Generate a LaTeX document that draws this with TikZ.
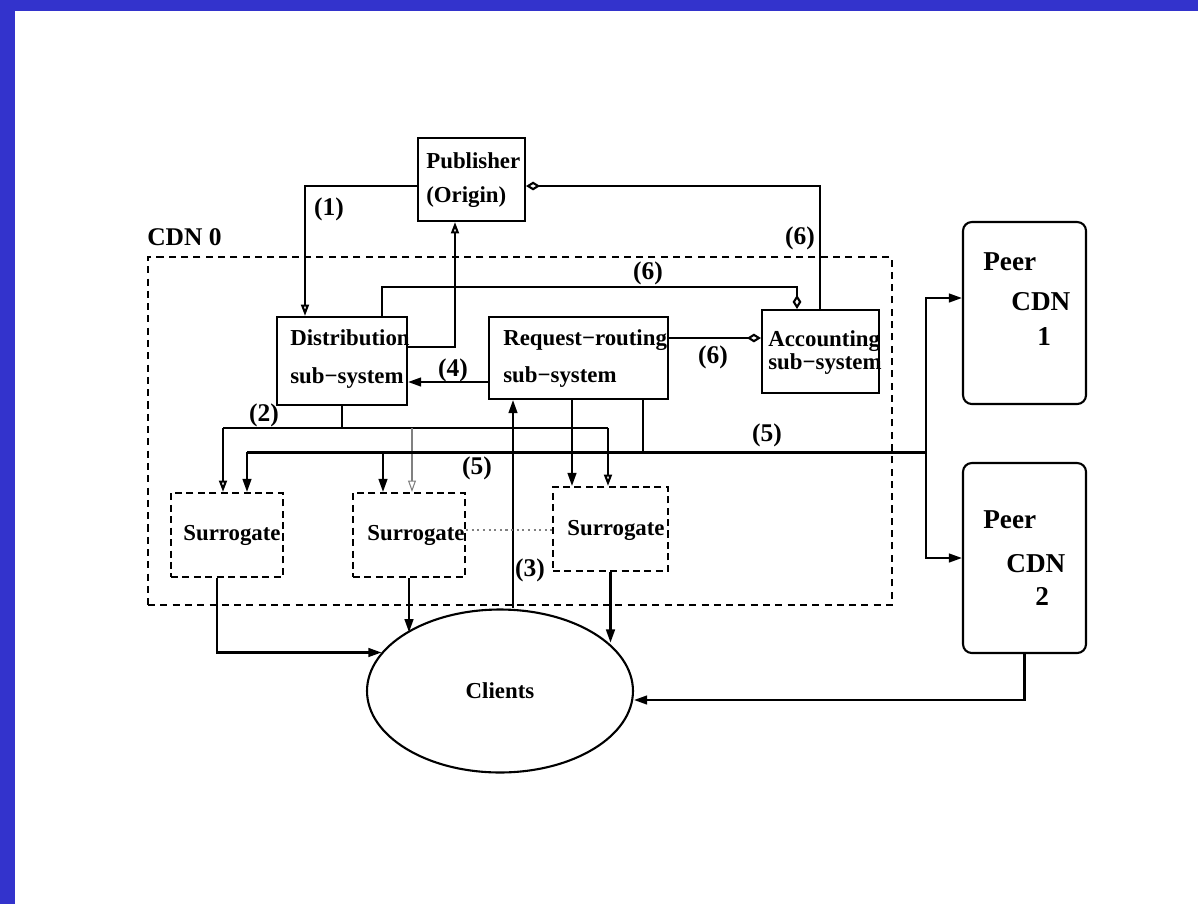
\documentclass[tikz,border=0pt]{standalone}
\usepackage{fontspec}
\setmainfont{Liberation Serif}
\usetikzlibrary{arrows.meta, positioning, shapes.geometric}
\definecolor{frameblue}{RGB}{51,51,204}

\begin{document}
\begin{tikzpicture}[x=0.02cm, y=-0.02cm,
    box/.style={rectangle, draw, line width=1.2pt, inner sep=0pt},
    surrogate/.style={rectangle, draw, line width=1.2pt, dash pattern=on 4pt off 2.5pt, minimum width=2.24cm, minimum height=1.68cm, inner sep=0pt},
    peer/.style={rectangle, draw, line width=1.2pt, rounded corners=5pt, minimum width=2.46cm, inner sep=0pt},
    txt/.style={anchor=base west, inner sep=0pt, font=\bfseries\fontsize{13}{15}\selectfont},
    peertxt/.style={anchor=base west, inner sep=0pt, font=\bfseries\fontsize{15.5}{18}\selectfont},
    lbl/.style={inner sep=0pt, font=\bfseries\fontsize{14.5}{17}\selectfont},
    wire/.style={line width=1.2pt},
    arrow/.style={-{Triangle[length=7.5pt,width=5pt]}, line width=1.2pt},
    openarrow/.style={-{Triangle[open,length=6.5pt,width=4.5pt]}, line width=1.2pt},
    diamarrow/.style={-{Diamond[open,length=8pt,width=5pt]}, line width=1.2pt}
]
    % Frame
    \useasboundingbox (0,0) rectangle (1198,904);
    \fill[frameblue] (0,0) rectangle (1198,11);
    \fill[frameblue] (0,0) rectangle (15,904);

    % Publisher and CDN 0
    \node[box, minimum width=2.14cm, minimum height=1.66cm] (pub) at (471.5,179.5) {};
    \node[txt] (pubname) at (426,168) {Publisher};
    \node[txt] (puborig) at (426,202) {(Origin)};
    \node[rectangle, draw, line width=1.2pt, dash pattern=on 4pt off 3pt, minimum width=14.88cm, minimum height=6.96cm] (cdn0) at (520,431) {};
    \node[lbl, anchor=base west] (cdn0name) at (147,245) {CDN 0};

    % Sub-systems
    \node[box, minimum width=2.6cm, minimum height=1.76cm] (dist) at (342,361) {};
    \node[txt] (distname) at (290,345) {Distribution};
    \node[txt] (distsub) at (290,383) {sub−system};
    \node[box, minimum width=3.58cm, minimum height=1.64cm] (rr) at (578.5,358) {};
    \node[txt] (rrname) at (503,345) {Request−routing};
    \node[txt] (rrsub) at (503,382) {sub−system};
    \node[box, minimum width=2.34cm, minimum height=1.66cm] (acct) at (820.5,351.5) {};
    \node[txt] (acctname) at (768,346) {Accounting};
    \node[txt] (acctsub) at (768,369) {sub−system};

    % Surrogates
    \node[surrogate] (s1) at (227,535) {};
    \node[txt] (s1name) at (183,540) {Surrogate};
    \node[surrogate] (s2) at (409,535) {};
    \node[txt] (s2name) at (367,540) {Surrogate};
    \node[surrogate, minimum width=2.3cm] (s3) at (610.5,529) {};
    \node[txt] (s3name) at (567,535) {Surrogate};

    % Peers and clients
    \node[peer, minimum height=3.64cm] (peer1) at (1024.5,313) {};
    \node[peertxt] (peer1a) at (983,270) {Peer};
    \node[peertxt] (peer1b) at (1011,310) {CDN};
    \node[peertxt] (peer1c) at (1037,345) {1};
    \node[peer, minimum height=3.8cm] (peer2) at (1024.5,558) {};
    \node[peertxt] (peer2a) at (983,528) {Peer};
    \node[peertxt] (peer2b) at (1006,572) {CDN};
    \node[peertxt] (peer2c) at (1035,605) {2};
    \node[ellipse, draw, line width=1.2pt, minimum width=5.32cm, minimum height=3.26cm, inner sep=0pt, font=\bfseries\fontsize{13}{15}\selectfont] (cli) at (500,691) {Clients};

    % Junctions
    \coordinate (j1) at (305,186);
    \coordinate (j2) at (455,347);
    \coordinate (j3) at (382,287);
    \coordinate (j4) at (797,287);
    \coordinate (j5) at (820,186);
    \coordinate (j6) at (715,338);
    \coordinate (j7) at (450,382);
    \coordinate (j8) at (342,428);
    \coordinate (j9) at (223,428);
    \coordinate (j10) at (608,428);
    \coordinate (j11) at (412,428);
    \coordinate (j12) at (643,452);
    \coordinate (j13) at (247,452);
    \coordinate (j14) at (926,452);
    \coordinate (j15) at (383,452);
    \coordinate (j16) at (926,298);
    \coordinate (j17) at (926,558);
    \coordinate (j18) at (572,420);
    \coordinate (j19) at (513,500);
    \coordinate (j20) at (217,600);
    \coordinate (j21) at (1023,700);
    \coordinate (j22) at (500,530);

    % (1), (6) and (4)
    \draw[openarrow] (pub.west |- j1) -- (j1) -- (dist.north -| j1);
    \draw[openarrow] (dist.east |- j2) -- (j2) -- (pub.south -| j2);
    \draw[diamarrow] (dist.north -| j3) -- (j3) -- (j4) -- (acct.north -| j4);
    \draw[diamarrow] (acct.north -| j5) -- (j5) -- (pub.east |- j5);
    \draw[diamarrow] (rr.east |- j6) -- (acct.west |- j6);
    \draw[arrow] (rr.west |- j7) -- (dist.east |- j7);

    % (2)
    \draw[wire] (dist.south -| j8) -- (j8);
    \draw[wire] (j9) -- (j10);
    \draw[openarrow] (j9) -- (s1.north -| j9);
    \draw[openarrow, line width=0.6pt, gray] (j11) -- (s2.north -| j11);
    \draw[openarrow] (j10) -- (s3.north -| j10);

    % (5)
    \draw[wire] (rr.south -| j12) -- (j12);
    \draw[wire, line width=1.7pt] (j13) -- (j14);
    \draw[arrow] (j13) -- (s1.north -| j13);
    \draw[arrow] (j15) -- (s2.north -| j15);
    \draw[arrow] (j14) -- (j16) -- (peer1.west |- j16);
    \draw[arrow] (j14) -- (j17) -- (peer2.west |- j17);
    \draw[arrow] (rr.south -| j18) -- (s3.north -| j18);

    % (3) and delivery
    \draw[arrow] (cli.north -| j19) -- (rr.south -| j19);
    \draw[arrow] (s1.south -| j20) |- (cli.162);
    \draw[arrow] (s2.south) -- (s2.south |- cli.148);
    \draw[arrow] (s3.south) -- (s3.south |- cli.24);
    \draw[arrow] (peer2.south) |- (cli.east |- j21);
    \draw[dotted, line width=1.2pt, gray] (s2.east |- j22) -- (s3.west |- j22);

    % Labels
    \node[lbl] (l1) at (329,209) {(1)};
    \node[lbl] (l6a) at (648,273) {(6)};
    \node[lbl] (l6b) at (800,238) {(6)};
    \node[lbl] (l6c) at (713,357) {(6)};
    \node[lbl] (l4) at (453,370) {(4)};
    \node[lbl] (l2) at (264,415) {(2)};
    \node[lbl] (l5a) at (477,468) {(5)};
    \node[lbl] (l5b) at (767,435) {(5)};
    \node[lbl] (l3) at (530,570) {(3)};
\end{tikzpicture}
\end{document}
